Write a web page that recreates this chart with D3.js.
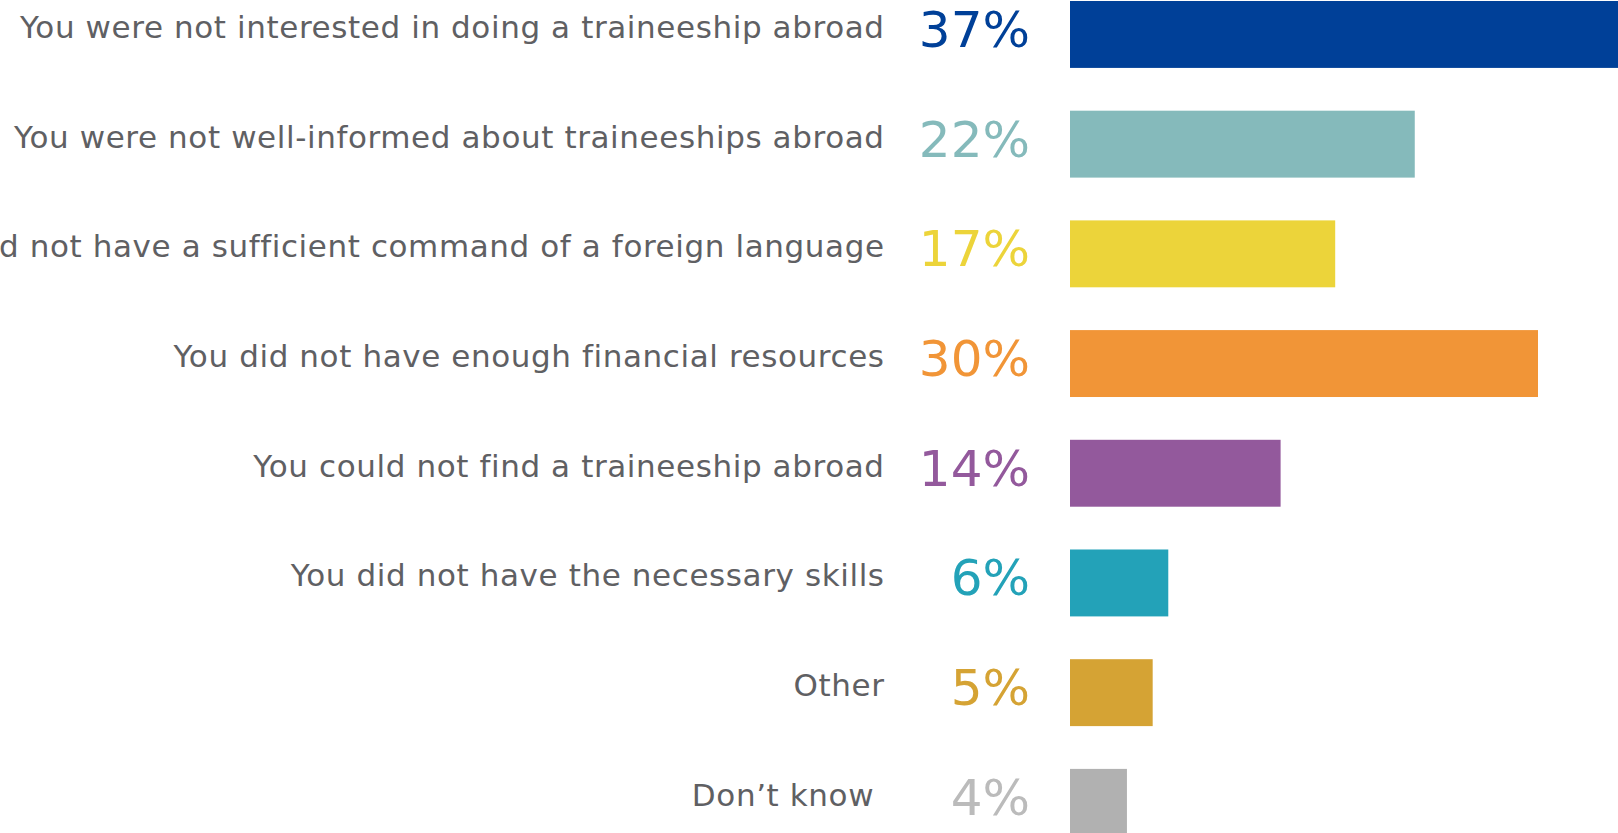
<!DOCTYPE html>
<html>
<head>
<meta charset="utf-8">
<script src="https://cdn.jsdelivr.net/npm/d3@7"></script>
<style>
  html, body { margin: 0; padding: 0; background: #ffffff; overflow: hidden; }
  svg { display: block; }
</style>
</head>
<body>
<svg id="chart" width="1618" height="833"></svg>
<script>
const categories = [
  "You were not interested in doing a traineeship abroad",
  "You were not well-informed about traineeships abroad",
  "You did not have a sufficient command of a foreign language",
  "You did not have enough financial resources",
  "You could not find a traineeship abroad",
  "You did not have the necessary skills",
  "Other",
  "Don\u2019t know\u00A0"
];
const values = [37, 22.1, 17.0, 30.0, 13.5, 6.3, 5.3, 3.65];
const valueLabels = ["37%", "22%", "17%", "30%", "14%", "6%", "5%", "4%"];
const barColors = ["#004098", "#85BABB", "#ECD43A", "#F19537", "#93599C", "#23A2B8", "#D5A334", "#B1B1B1"];
const labelColors = ["#004098", "#85BABB", "#ECD43A", "#F19537", "#93599C", "#23A2B8", "#D5A334", "#BBBBBB"];

const rows = categories.map((c, i) => ({ cat: c, v: values[i], lab: valueLabels[i], bc: barColors[i], lc: labelColors[i] }));

const svg = d3.select("#chart");
const step = 109.7;
const y = d3.scaleBand()
  .domain(categories)
  .range([-20.4, -20.4 + step * categories.length])
  .paddingInner(0.39)
  .paddingOuter(0.195);
const x = d3.scaleLinear().domain([0, 100]).range([1070, 1070 + 1560]);

svg.selectAll("rect.bar").data(rows).join("rect")
  .attr("class", "bar")
  .attr("x", x(0))
  .attr("y", d => y(d.cat))
  .attr("width", d => x(d.v) - x(0))
  .attr("height", y.bandwidth())
  .attr("fill", d => d.bc);

svg.selectAll("text.cat").data(rows).join("text")
  .attr("class", "cat")
  .attr("x", 884.6)
  .attr("y", d => y(d.cat) + 37)
  .attr("text-anchor", "end")
  .style("white-space", "pre")
  .style("letter-spacing", "0.6px")
  .attr("font-family", "'DejaVu Sans', Verdana, sans-serif")
  .attr("font-size", 31)
  .attr("fill", "#5F6063")
  .text(d => d.cat);

svg.selectAll("text.val").data(rows).join("text")
  .attr("class", "val")
  .attr("x", 1030)
  .attr("y", d => y(d.cat) + 46)
  .attr("text-anchor", "end")
  .attr("font-family", "'DejaVu Sans', sans-serif")
  .attr("font-size", 50)
  .attr("fill", d => d.lc)
  .text(d => d.lab);
</script>
</body>
</html>
